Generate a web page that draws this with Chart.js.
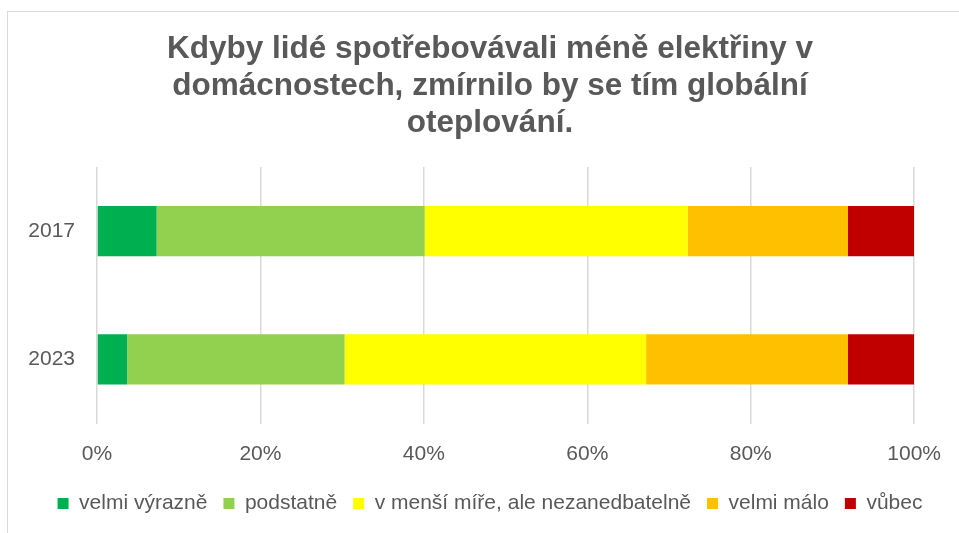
<!DOCTYPE html>
<html>
<head>
<meta charset="utf-8">
<script src="https://cdn.jsdelivr.net/npm/chart.js@4/dist/chart.umd.min.js"></script>
<style>
  html, body { margin: 0; padding: 0; background: #fff; }
  #wrap { position: relative; width: 959px; height: 533px; overflow: hidden; }
  #frame { position: absolute; left: 7px; top: 11px; width: 1000px; height: 600px;
           border-left: 1px solid #d9d9d9; border-top: 1px solid #d9d9d9; }
  #chart { position: absolute; left: 0; top: 0; }
</style>
</head>
<body>
<div id="wrap">
  <div id="frame"></div>
  <canvas id="chart" width="959" height="533"></canvas>
</div>
<script>
// kategorie a hodnoty (v %)
const categories = ['2017', '2023'];
const velmiVyrazne = [7.3, 3.7];
const podstatne = [32.8, 26.6];
const vMensiMire = [32.2, 36.9];
const velmiMalo = [19.6, 24.7];
const vubec = [8.1, 8.1];
const xTicks = [0, 20, 40, 60, 80, 100];

const seriesNames = ['velmi výrazně', 'podstatně', 'v menší míře, ale nezanedbatelně', 'velmi málo', 'vůbec'];
const seriesData = [velmiVyrazne, podstatne, vMensiMire, velmiMalo, vubec];
const seriesColors = ['#00B050', '#92D050', '#FFFF00', '#FFC000', '#C00000'];

const textColor = '#595959';
const fontFamily = '"Liberation Sans", Arial, sans-serif';

new Chart(document.getElementById('chart'), {
    type: 'bar',
    data: {
        labels: categories,
        datasets: seriesNames.map((name, i) => ({
            label: name,
            data: seriesData[i],
            backgroundColor: seriesColors[i],
            borderWidth: 0,
            barPercentage: 0.49,
            categoryPercentage: 0.8
        }))
    },
    options: {
        indexAxis: 'y',
        responsive: false,
        animation: false,
        layout: { padding: { left: 27, right: 6, top: 0, bottom: 9 } },
        scales: {
            x: {
                stacked: true,
                min: 0,
                max: 100,
                grid: { color: '#d9d9d9', lineWidth: 1.5, drawTicks: false },
                border: { display: false },
                afterBuildTicks: scale => { scale.ticks = xTicks.map(v => ({ value: v })); },
                ticks: {
                    padding: 18,
                    color: textColor,
                    font: { family: fontFamily, size: 21 },
                    callback: v => v + '%'
                },
                afterFit: scale => { scale.height = 53.5; }
            },
            y: {
                stacked: true,
                grid: { display: false, drawTicks: false },
                border: { display: false },
                ticks: {
                    padding: 22,
                    color: textColor,
                    font: { family: fontFamily, size: 21 }
                },
                afterFit: scale => { scale.width = 70; }
            },
            // prázdná osa vpravo, jen aby nadpis a legenda byly na středu rámečku
            pad: {
                type: 'linear',
                position: 'right',
                grid: { display: false },
                border: { display: false },
                ticks: { display: false },
                afterFit: scale => { scale.width = 33; }
            }
        },
        plugins: {
            title: {
                display: true,
                text: ['Kdyby lidé spotřebovávali méně elektřiny v',
                       'domácnostech, zmírnilo by se tím globální',
                       'oteplování.'],
                color: textColor,
                font: { family: fontFamily, size: 31.5, weight: 'bold', lineHeight: 1.175 },
                padding: { top: 31, bottom: 25 }
            },
            legend: {
                position: 'bottom',
                labels: {
                    boxWidth: 11,
                    boxHeight: 11,
                    padding: 16,
                    color: textColor,
                    font: { family: fontFamily, size: 21 }
                }
            },
            tooltip: { enabled: false }
        }
    }
});
</script>
</body>
</html>
